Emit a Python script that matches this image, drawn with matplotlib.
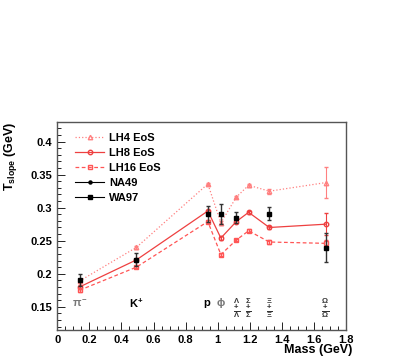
import numpy as np
import matplotlib
matplotlib.use('Agg')
import matplotlib.pyplot as plt
from matplotlib.ticker import MultipleLocator

plt.rcParams['font.family'] = ['Liberation Sans', 'DejaVu Sans']
plt.rcParams['mathtext.fontset'] = 'custom'
plt.rcParams['mathtext.rm'] = 'Liberation Sans:bold'
plt.rcParams['mathtext.it'] = 'Liberation Sans:bold'
plt.rcParams['mathtext.bf'] = 'Liberation Sans:bold'

# hadron masses (GeV): pi-, K+, p, phi, Lambda, Sigma, Xi, Omega
masses = [0.1396, 0.4937, 0.9383, 1.0195, 1.1157, 1.1926, 1.3213, 1.6725]

# model curves
lh4 = [0.189, 0.240, 0.336, 0.277, 0.316, 0.334, 0.325, 0.338]
lh4_err = [0.002, 0.002, 0.002, 0.003, 0.002, 0.002, 0.004, 0.024]
lh8 = [0.180, 0.221, 0.295, 0.254, 0.279, 0.293, 0.270, 0.275]
lh8_err = [0.002, 0.002, 0.002, 0.003, 0.002, 0.002, 0.003, 0.017]
lh16 = [0.175, 0.210, 0.279, 0.229, 0.251, 0.265, 0.248, 0.246]
lh16_err = [0.002, 0.002, 0.002, 0.002, 0.002, 0.002, 0.003, 0.005]

# data
na49_m = [0.1396, 0.4937, 0.9383, 1.0195]
na49 = [0.190, 0.221, 0.291, 0.291]
na49_err = [0.009, 0.010, 0.012, 0.015]
wa97_m = [1.1157, 1.3213, 1.6725]
wa97 = [0.285, 0.291, 0.239]
wa97_err = [0.008, 0.010, 0.022]

# particle labels
lab_x = [0.14, 0.49, 0.93, 1.02]
lab_txt = [r'$\pi^{-}$', r'K$^{+}$', 'p', r'$\phi$']
lab_col = ['#777777', 'black', 'black', '#777777']
pair_x = [1.116, 1.19, 1.32, 1.67]
pair_sym = ['Lambda', 'Sigma', 'Xi', 'Omega']

fig = plt.figure(figsize=(4.15, 3.6), dpi=100)
ax = fig.add_axes([0.138, 0.0833, 0.696, 0.5787])

c4 = '#ff8080'
c8 = '#ee4040'
c16 = '#ff5555'

h4, = ax.plot(masses, lh4, ls=':', color=c4, lw=0.9, marker='^', mfc='none', mec=c4, ms=3.2)
ax.errorbar(masses, lh4, yerr=lh4_err, fmt='none', ecolor=c4, elinewidth=0.8, capsize=1.5)
h8, = ax.plot(masses, lh8, ls='-', color=c8, lw=0.9, marker='o', mfc='none', mec=c8, ms=3.2)
ax.errorbar(masses, lh8, yerr=lh8_err, fmt='none', ecolor=c8, elinewidth=0.8, capsize=1.5)
h16, = ax.plot(masses, lh16, ls=(0, (3, 2)), color=c16, lw=0.9, marker='s', mfc='none', mec=c16, ms=3.2)
ax.errorbar(masses, lh16, yerr=lh16_err, fmt='none', ecolor=c16, elinewidth=0.8, capsize=1.5)

ax.errorbar(na49_m, na49, yerr=na49_err, fmt='none', ecolor='#333333', elinewidth=1, capsize=1.5)
hna, = ax.plot(na49_m, na49, ls='none', marker='s', color='black', ms=2.8)
ax.errorbar(wa97_m, wa97, yerr=wa97_err, fmt='none', ecolor='#333333', elinewidth=1, capsize=1.5)
hwa, = ax.plot(wa97_m, wa97, ls='none', marker='s', color='black', ms=2.8)

lna, = ax.plot([], [], color='black', lw=0.8, marker='o', ms=2.2)
lwa, = ax.plot([], [], color='black', lw=0.8, marker='s', ms=3)

ax.legend([h4, h8, h16, lna, lwa], ['LH4 EoS', 'LH8 EoS', 'LH16 EoS', 'NA49', 'WA97'],
          loc='upper left', bbox_to_anchor=(0.04, 0.98), frameon=False,
          prop={'weight': 'bold', 'size': 8}, handlelength=2.6, handletextpad=0.4,
          labelspacing=0.45, borderaxespad=0.2)

for x, t, c in zip(lab_x, lab_txt, lab_col):
    ax.text(x, 0.155, t, ha='center', va='center', fontsize=8, fontweight='bold', color=c)
for x, s in zip(pair_x, pair_sym):
    ax.text(x, 0.1595, r'$\%s$' % s, ha='center', va='center', fontsize=5.5, color='#333333')
    ax.text(x, 0.1485, '+', ha='center', va='center', fontsize=5.5, fontweight='bold', color='#333333')
    ax.text(x, 0.1375, r'$\overline{\%s}$' % s, ha='center', va='center', fontsize=5.5, color='#333333')

ax.set_xlim(0, 1.8)
ax.set_ylim(0.1147, 0.4303)
ax.xaxis.set_minor_locator(MultipleLocator(0.05))
ax.yaxis.set_minor_locator(MultipleLocator(0.01))
ax.set_xticks(np.arange(0, 1.81, 0.2))
ax.set_xticklabels(['0', '0.2', '0.4', '0.6', '0.8', '1', '1.2', '1.4', '1.6', '1.8'])
ax.set_yticks([0.15, 0.2, 0.25, 0.3, 0.35, 0.4])
ax.set_yticklabels(['0.15', '0.2', '0.25', '0.3', '0.35', '0.4'])
ax.tick_params(which='both', direction='in', top=False, right=False, labelsize=8)
ax.tick_params(which='major', length=6, width=0.6)
ax.tick_params(which='minor', length=3, width=0.6)
for lab in ax.get_xticklabels() + ax.get_yticklabels():
    lab.set_fontweight('bold')
for s in ax.spines.values():
    s.set_linewidth(1.0)
    s.set_color('#555555')

fig.text(0.025, 0.662, r'T$_{\rm slope}$ (GeV)', rotation=90, ha='center', va='top',
         fontsize=9, fontweight='bold')
fig.text(0.85, 0.028, 'Mass (GeV)', ha='right', va='center', fontsize=9, fontweight='bold')

fig.savefig('out.png', dpi=100)
